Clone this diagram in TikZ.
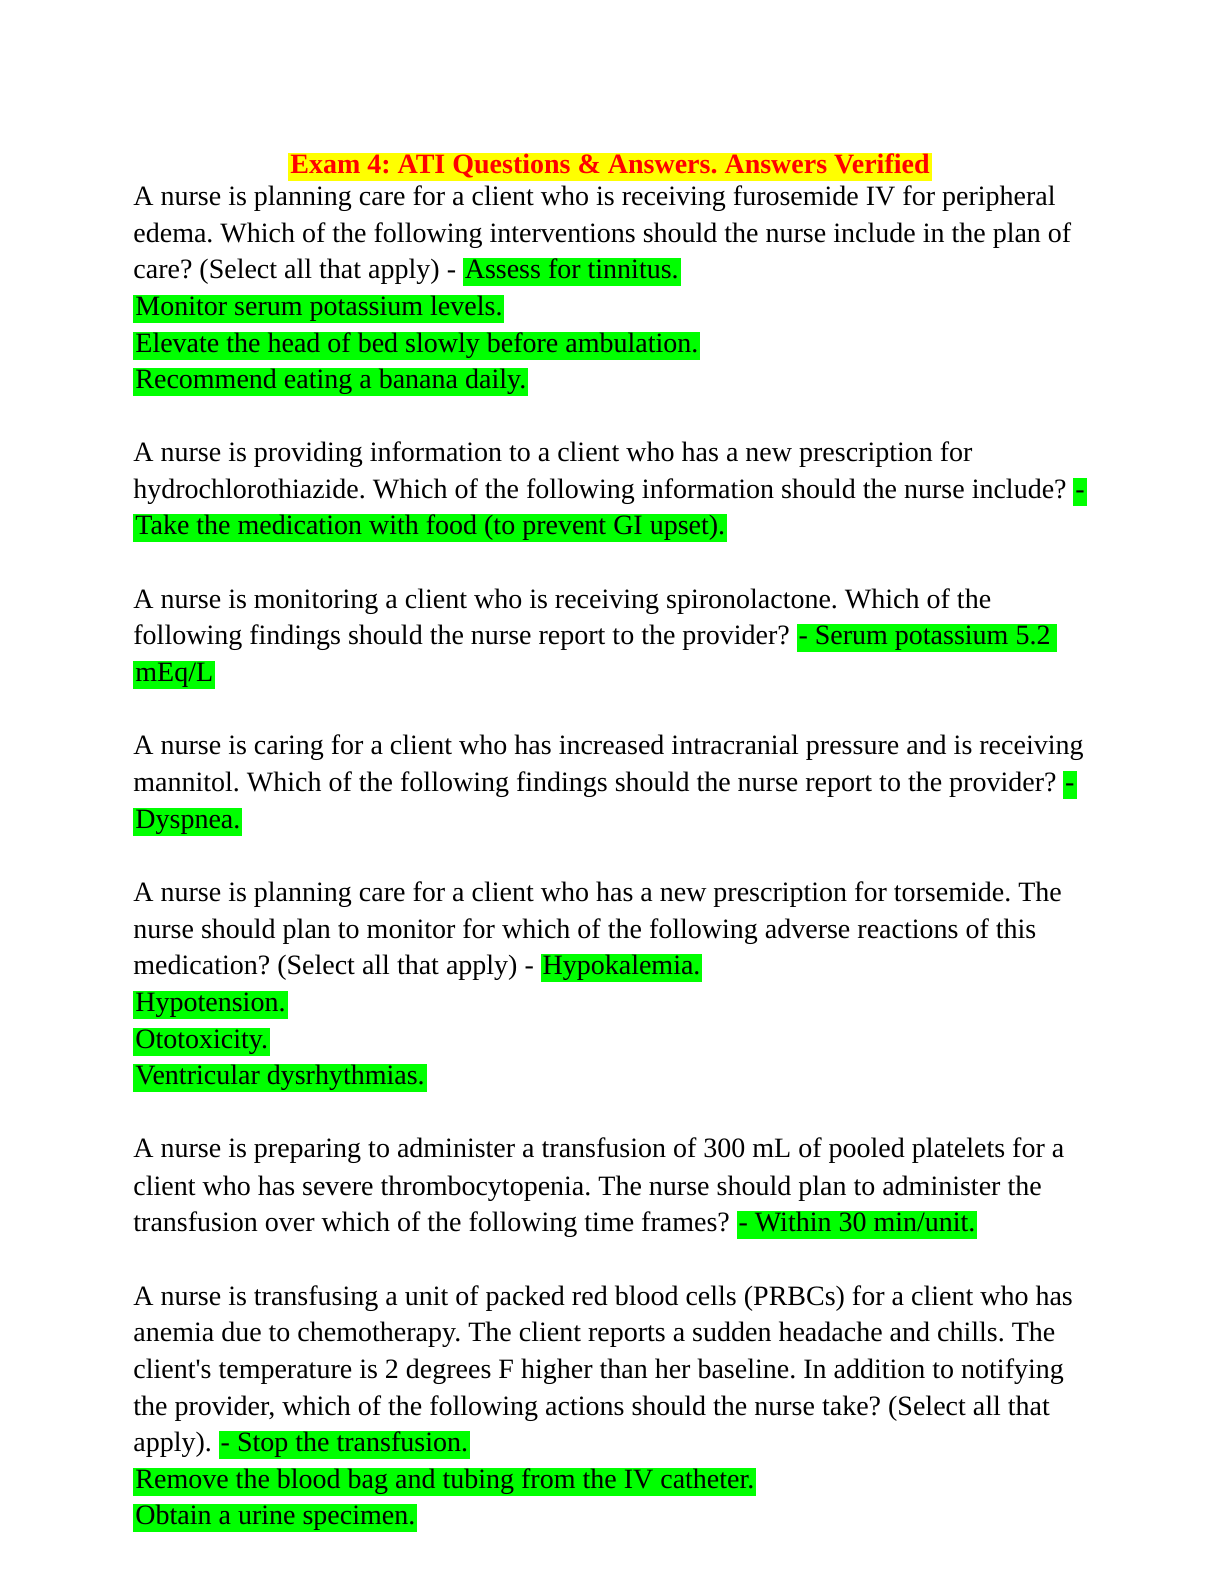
\documentclass[tikz,border=0pt]{standalone}
\usepackage{fontspec}
\setmainfont{Liberation Serif}
\usetikzlibrary{positioning}
\definecolor{hlgreen}{RGB}{0,255,0}
\definecolor{hlyellow}{RGB}{255,255,0}
\begin{document}
\frenchspacing
\begin{tikzpicture}[x=0.5pt, y=-0.5pt,
    every node/.style={
        inner sep=0pt,
        text height=9.8pt,
        text depth=3.2pt,
        font=\fontsize{14}{16}\selectfont
    },
    txt/.style={anchor=west},
    hl/.style={anchor=west, fill=hlgreen, inner xsep=1pt, inner ysep=0.6pt}
]
    \useasboundingbox (0,0) rectangle (1224,1584);

    \node (title) [fill=hlyellow, text=red, inner xsep=1pt, inner ysep=0.6pt, font=\fontsize{14}{16}\selectfont\bfseries] at (610,167)
    {
        Exam 4: ATI Questions \& Answers. Answers Verified
    };

    % question 1
    \node (q1a) [txt] at (133,199) {A nurse is planning care for a client who is receiving furosemide IV for peripheral};
    \node (q1b) [txt] at (133,236) {edema. Which of the following interventions should the nurse include in the plan of};
    \node (q1c) [txt] at (133,272) {care? (Select all that apply) -};
    \node (a1a) [hl, right=3pt of q1c] {Assess for tinnitus.};
    \node (a1b) [hl] at (133,309) {Monitor serum potassium levels.};
    \node (a1c) [hl] at (133,346) {Elevate the head of bed slowly before ambulation.};
    \node (a1d) [hl] at (133,382) {Recommend eating a banana daily.};

    % question 2
    \node (q2a) [txt] at (133,455) {A nurse is providing information to a client who has a new prescription for};
    \node (q2b) [txt] at (133,492) {hydrochlorothiazide. Which of the following information should the nurse include?};
    \node (a2a) [hl, right=3pt of q2b] {-};
    \node (a2b) [hl] at (133,528) {Take the medication with food (to prevent GI upset).};

    % question 3
    \node (q3a) [txt] at (133,602) {A nurse is monitoring a client who is receiving spironolactone. Which of the};
    \node (q3b) [txt] at (133,638) {following findings should the nurse report to the provider?};
    \node (a3a) [hl, right=3pt of q3b] {- Serum potassium 5.2\,};
    \node (a3b) [hl] at (133,675) {mEq/L};

    % question 4
    \node (q4a) [txt] at (133,748) {A nurse is caring for a client who has increased intracranial pressure and is receiving};
    \node (q4b) [txt] at (133,785) {mannitol. Which of the following findings should the nurse report to the provider?};
    \node (a4a) [hl, right=3pt of q4b] {-};
    \node (a4b) [hl] at (133,822) {Dyspnea.};

    % question 5
    \node (q5a) [txt] at (133,895) {A nurse is planning care for a client who has a new prescription for torsemide. The};
    \node (q5b) [txt] at (133,932) {nurse should plan to monitor for which of the following adverse reactions of this};
    \node (q5c) [txt] at (133,968) {medication? (Select all that apply) -};
    \node (a5a) [hl, right=3pt of q5c] {Hypokalemia.};
    \node (a5b) [hl] at (133,1005) {Hypotension.};
    \node (a5c) [hl] at (133,1042) {Ototoxicity.};
    \node (a5d) [hl] at (133,1078) {Ventricular dysrhythmias.};

    % question 6
    \node (q6a) [txt] at (133,1151) {A nurse is preparing to administer a transfusion of 300 mL of pooled platelets for a};
    \node (q6b) [txt] at (133,1189) {client who has severe thrombocytopenia. The nurse should plan to administer the};
    \node (q6c) [txt] at (133,1225) {transfusion over which of the following time frames?};
    \node (a6a) [hl, right=3pt of q6c] {- Within 30 min/unit.};

    % question 7
    \node (q7a) [txt] at (133,1299) {A nurse is transfusing a unit of packed red blood cells (PRBCs) for a client who has};
    \node (q7b) [txt] at (133,1335) {anemia due to chemotherapy. The client reports a sudden headache and chills. The};
    \node (q7c) [txt] at (133,1372) {client\textquotesingle s temperature is 2 degrees F higher than her baseline. In addition to notifying};
    \node (q7d) [txt] at (133,1409) {the provider, which of the following actions should the nurse take? (Select all that};
    \node (q7e) [txt] at (133,1445) {apply).};
    \node (a7a) [hl, right=3pt of q7e] {- Stop the transfusion.};
    \node (a7b) [hl] at (133,1482) {Remove the blood bag and tubing from the IV catheter.};
    \node (a7c) [hl] at (133,1518) {Obtain a urine specimen.};
\end{tikzpicture}
\end{document}
